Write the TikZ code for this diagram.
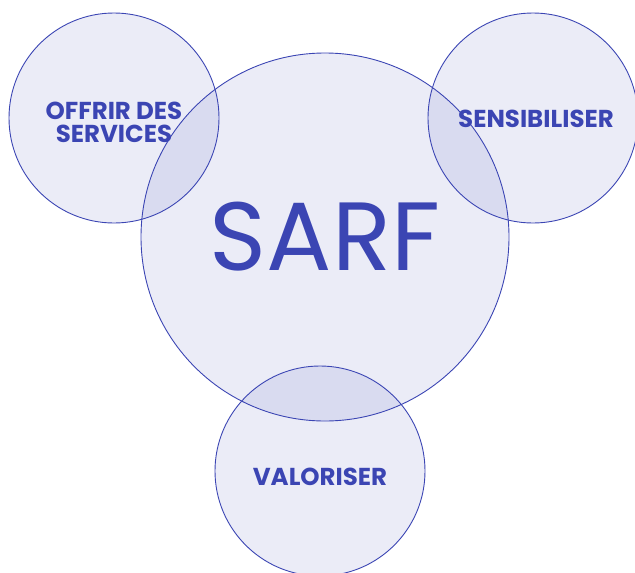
\documentclass[tikz,border=0pt]{standalone}
\usepackage{fontspec}
\setmainfont{Poppins}
\usepackage{tikz}
\definecolor{sarfblue}{HTML}{3B45B3}
\tikzset{
  bubble/.style={draw=sarfblue, line width=0.9pt, fill=sarfblue, fill opacity=0.1},
  label/.style={text=sarfblue, font=\bfseries\fontsize{24.5}{23}\selectfont, align=center, inner sep=0pt}
}
\begin{document}
\begin{tikzpicture}[x=1pt,y=-1pt]

%%%%------------Cadre----------------%%
\clip (0,0) rectangle (635,573);

%%%%------------Cercles----------------%%
\draw[bubble] (325,237) circle [radius=184];
\draw[bubble] (114,118) circle [radius=105];
\draw[bubble] (533,118) circle [radius=105];
\draw[bubble] (320,471) circle [radius=105];

%%%%------------Textes----------------%%
\node [text=sarfblue, inner sep=0pt, font=\fontsize{97}{97}\selectfont] (sarf) at (325,237) {SARF};
\node [label] (offrir) at (114,122) {OFFRIR DES\\SERVICES};
\node [label] (sensib) at (536,118.5) {SENSIBILISER};
\node [label] (valor) at (320,476.5) {VALORISER};

\end{tikzpicture}
\end{document}
